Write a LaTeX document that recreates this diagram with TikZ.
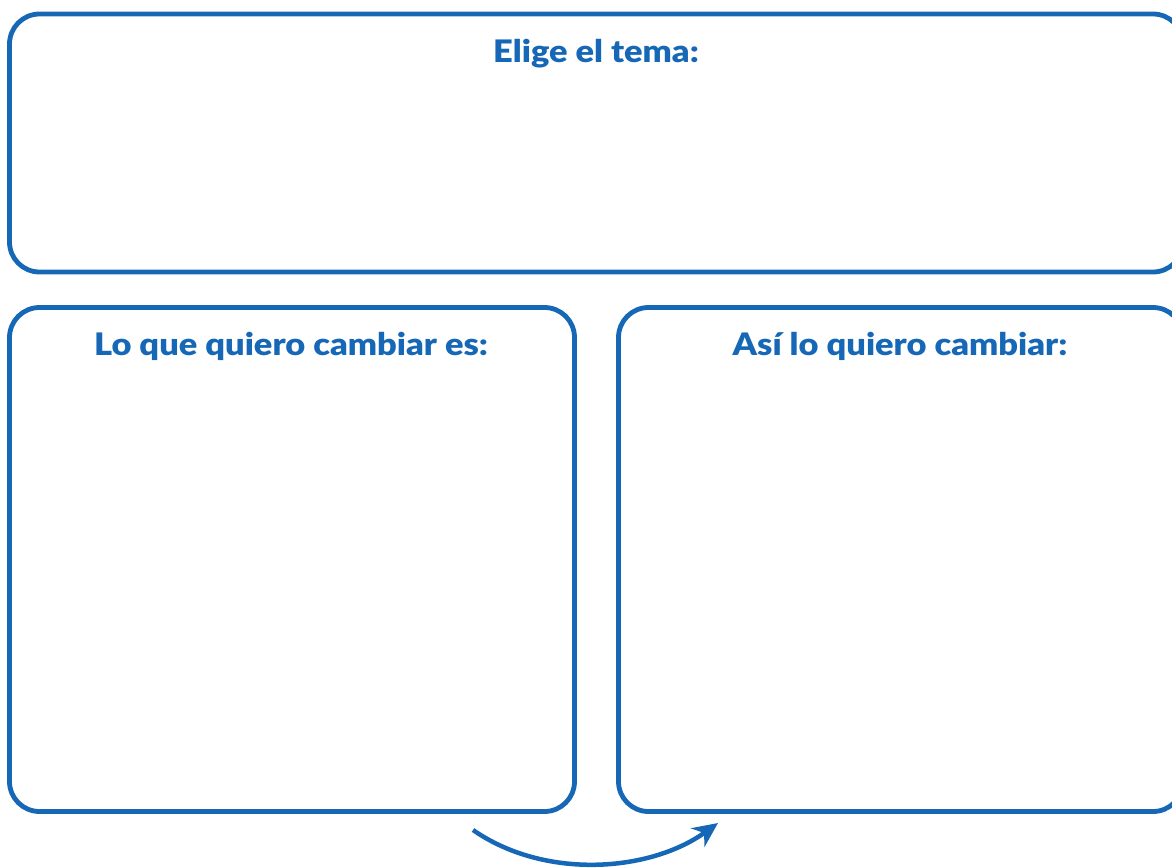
\documentclass[tikz,border=0pt]{standalone}
\usepackage{fontspec}
\setmainfont{Lato}[BoldFont={Lato Black}, FakeStretch=1.11]
\usetikzlibrary{arrows.meta}
\definecolor{bblue}{RGB}{22,104,182}
\begin{document}
\begin{tikzpicture}[x=1pt,y=-1pt,
  panel/.style={draw=bblue, line width=4.8pt, rounded corners=30pt, inner sep=0pt},
  ttl/.style={text=bblue, font=\fontsize{31}{36}\selectfont\bfseries, inner sep=0pt, anchor=base},
  arr/.style={draw=bblue, line width=4.5pt, -{Stealth[length=25pt, width=23pt, inset=8pt]}}]
\useasboundingbox (0,0) rectangle (1172,867);
\node[panel, minimum width=1173.5pt, minimum height=258pt] (top) at (596.25,143) {};
\node[panel, minimum width=565pt, minimum height=504pt] (left) at (292,559.5) {};
\node[panel, minimum width=564.5pt, minimum height=504pt] (right) at (900.75,559.5) {};
\node[ttl] (ttop) at (596,63) {Elige el tema:};
\node[ttl] (tleft) at (291,355) {Lo que quiero cambiar es:};
\node[ttl] (tright) at (900,355) {Así lo quiero cambiar:};
\coordinate (a0) at (473,830);
\coordinate (a1) at (718,823);
\draw[arr] (a0) .. controls (545,880) and (650,872) .. (a1);
\end{tikzpicture}
\end{document}
